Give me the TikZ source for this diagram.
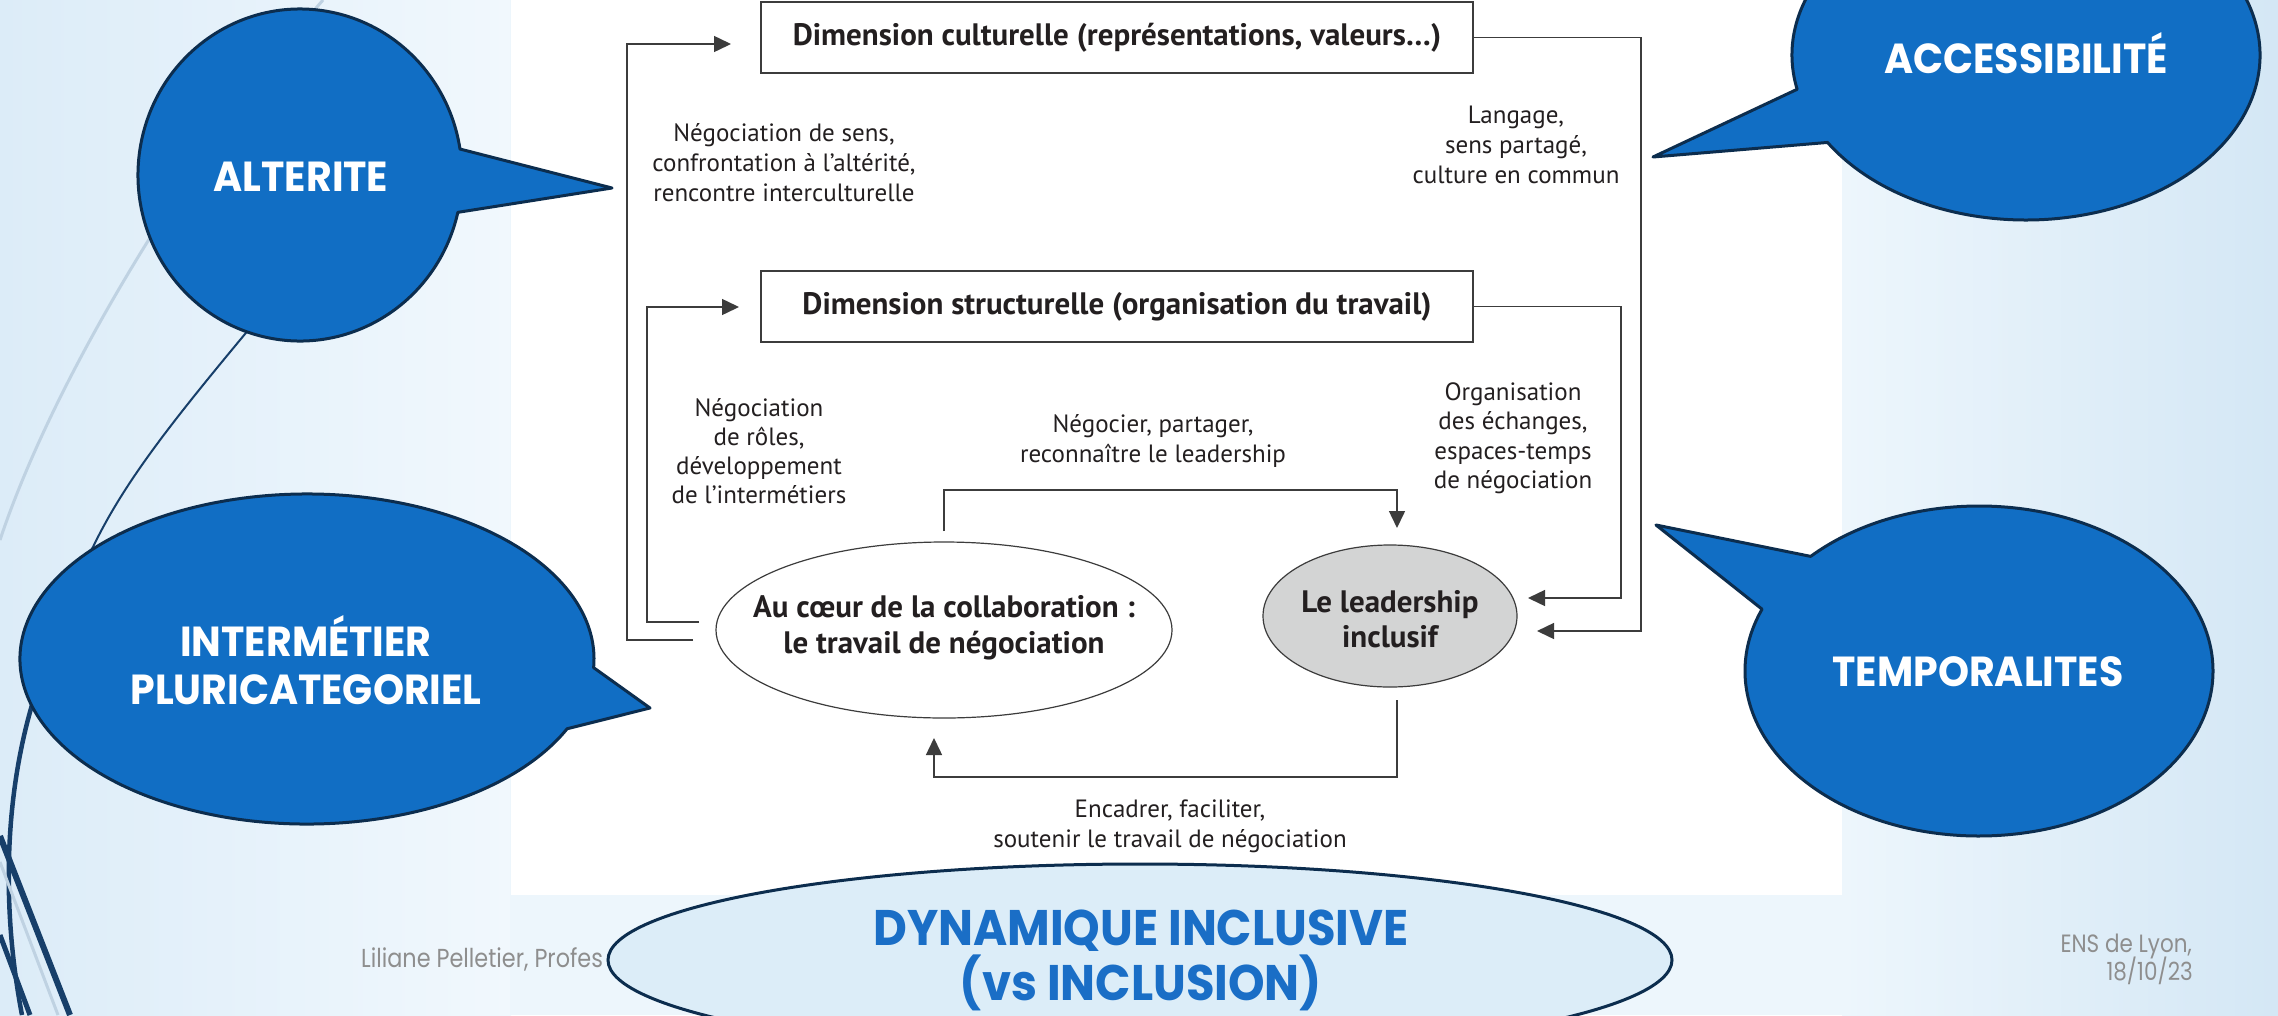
\documentclass[tikz,border=0pt]{standalone}
\usepackage{fontspec}
\usetikzlibrary{arrows.meta,shapes.geometric,calc}
\newfontfamily\diagf{PT Sans}
\newfontfamily\bubf[FakeStretch=0.94]{Poppins}
\newfontfamily\dynf[FakeStretch=0.93]{Poppins}
\newfontfamily\footf[FakeStretch=0.86]{Poppins}
\definecolor{bubfill}{HTML}{116EC4}
\definecolor{bubline}{HTML}{0C2D4E}
\definecolor{dynfill}{HTML}{DCEDF8}
\definecolor{dyntext}{HTML}{1A6EC6}
\definecolor{lin}{HTML}{3C3C3C}
\definecolor{txt}{HTML}{231F20}
\definecolor{graycirc}{HTML}{D3D4D4}
\definecolor{footc}{HTML}{8E8E8E}
\definecolor{decolight}{HTML}{BFD2E2}
\definecolor{deconavy}{HTML}{173F6A}
\definecolor{bgA}{HTML}{DCECF8}
\definecolor{bgB}{HTML}{F1F8FD}
\definecolor{bgC}{HTML}{EDF6FC}
\definecolor{bgD}{HTML}{D4E7F5}
\begin{document}
\begin{tikzpicture}[x=1pt,y=-1pt,
  bubble/.style={fill=bubfill, draw=bubline, line width=3pt, line join=round},
  bubtext/.style={font=\bubf\bfseries\fontsize{42}{48}\selectfont, text=white, align=center, inner sep=0},
  lbl/.style={font=\diagf\fontsize{25}{30}\selectfont, text=txt, align=center, inner sep=0},
  boldlbl/.style={font=\diagf\bfseries\fontsize{31}{36}\selectfont, text=txt, align=center, inner sep=0},
  dimbox/.style={draw=lin, line width=1.5pt, fill=white, minimum width=712pt, minimum height=71pt, inner sep=0},
  conn/.style={draw=lin, line width=1.5pt, -{Triangle[length=17pt,width=16pt]}},
  footer/.style={font=\footf\fontsize{26}{30}\selectfont, text=footc, inner sep=0}
]
\useasboundingbox (0,0) rectangle (2278,1015);
% background
\shade[left color=bgA, right color=bgB] (0,0) rectangle (511,1015);
\fill[bgC] (510,0) rectangle (1843,1015);
\shade[left color=bgC, right color=bgD] (1842,0) rectangle (2278,1015);
% decoration
\draw[decolight, line width=3pt] (323,0) .. controls (210,130) and (60,360) .. (0,540);
\draw[deconavy, line width=2pt] (290,280) .. controls (190,400) and (130,470) .. (93,547) -- (60,600);
\draw[deconavy, line width=4.5pt] (40,680) .. controls (5,780) and (0,900) .. (22,1015);
\draw[deconavy, line width=6pt] (0,836) -- (70,1015);
\draw[decolight, line width=3pt] (0,862) -- (58,1015);
\draw[deconavy, line width=5pt] (0,935) -- (30,1015);
% white panel
\fill[white] (511,0) rectangle (1842,895);

% boxes
\node[dimbox, boldlbl] (b1) at (1117,37.5) {Dimension culturelle (représentations, valeurs…)};
\node[dimbox, boldlbl] (b2) at (1117,306.5) {Dimension structurelle (organisation du travail)};
% ellipses
\node[ellipse, draw=lin, line width=1.2pt, fill=white, minimum width=456pt, minimum height=176pt, inner sep=0] (coeur) at (944,630) {};
\node[boldlbl] (coeurt) at (944,628) {Au cœur de la collaboration :\\le travail de négociation};
\node[ellipse, draw=lin, line width=1.2pt, fill=graycirc, minimum width=254pt, minimum height=142pt, inner sep=0] (lead) at (1390,616) {};
\node[boldlbl, font=\diagf\bfseries\fontsize{31}{35}\selectfont] (leadt) at (1390,619) {Le leadership\\inclusif};

% labels
\node[lbl] (l1) at (784,163) {Négociation de sens,\\confrontation à l’altérité,\\rencontre interculturelle};
\node[lbl] (r1) at (1516,145) {Langage,\\sens partagé,\\culture en commun};
\node[lbl, font=\diagf\fontsize{25}{29}\selectfont] (l2) at (759,451) {Négociation\\de rôles,\\développement\\de l’intermétiers};
\node[lbl] (m1) at (1153,441) {Négocier, partager,\\reconnaître le leadership};
\node[lbl, font=\diagf\fontsize{25}{29.5}\selectfont] (r2) at (1513,438) {Organisation\\des échanges,\\espaces-temps\\de négociation};
\node[lbl] (bl) at (1170,826) {Encadrer, faciliter,\\soutenir le travail de négociation};

% connector coordinates
\coordinate (k1) at (1641,631); \coordinate (e1) at (1537,631);
\coordinate (k2) at (1621,598); \coordinate (e2) at (1528,598);
\coordinate (s3) at (693,640);  \coordinate (k3) at (627,44);  \coordinate (e3) at (731,44);
\coordinate (s4) at (699,622);  \coordinate (k4) at (647,307); \coordinate (e4) at (739,307);
\coordinate (s5) at (944,531);  \coordinate (k5) at (1397,490); \coordinate (e5) at (1397,528);
\coordinate (s6) at (1397,700); \coordinate (k6) at (934,777); \coordinate (e6) at (934,738);

\draw[conn] (b1.east) -| (k1) -- (e1);
\draw[conn] (b2.east) -| (k2) -- (e2);
\draw[conn] (s3) -| (k3) -- (e3);
\draw[conn] (s4) -| (k4) -- (e4);
\draw[conn] (s5) |- (k5) -- (e5);
\draw[conn] (s6) |- (k6) -- (e6);

% footer
\node[footer, anchor=base west] (ft1) at (361,967) {Liliane Pelletier, Profes};
\node[footer, font=\footf\fontsize{25}{28}\selectfont, anchor=base east] (ft2) at (2192,952) {ENS de Lyon,};
\node[footer, font=\footf\fontsize{25}{28}\selectfont, anchor=base east] (ft3) at (2193,980) {18/10/23};

% bottom ellipse
\node[ellipse, fill=dynfill, draw=bubline, line width=3pt, minimum width=1064pt, minimum height=192pt, inner sep=0] (dyn) at (1140,960) {};
\node[font=\dynf\bfseries\fontsize{50}{55}\selectfont, text=dyntext, align=center, inner sep=0] (dynt) at (1141,960) {DYNAMIQUE INCLUSIVE\\(vs INCLUSION)};

% callouts
\path[bubble] (300,175) ++(13:162 and 166) arc[start angle=13, end angle=351, x radius=162, y radius=166] -- (612,188) -- cycle;
\node[bubtext] (alt) at (301,177) {ALTERITE};
\path[bubble] (2026,55) ++(168:234 and 165) arc[start angle=168, end angle=508, x radius=234, y radius=165] -- (1653,157) -- cycle;
\node[bubtext] (acc) at (2026,53) {ACCESSIBILITÉ};
\path[bubble] (307,659) ++(25:287 and 165) arc[start angle=25, end angle=363, x radius=287, y radius=165] -- (650,708) -- cycle;
\node[bubtext] (inter) at (306,660) {INTERMÉTIER\\PLURICATEGORIEL};
\path[bubble] (1979,671) ++(224:234 and 165) arc[start angle=224, end angle=562, x radius=234, y radius=165] -- (1656,525) -- cycle;
\node[bubtext] (temp) at (1978,672) {TEMPORALITES};
\end{tikzpicture}
\end{document}
